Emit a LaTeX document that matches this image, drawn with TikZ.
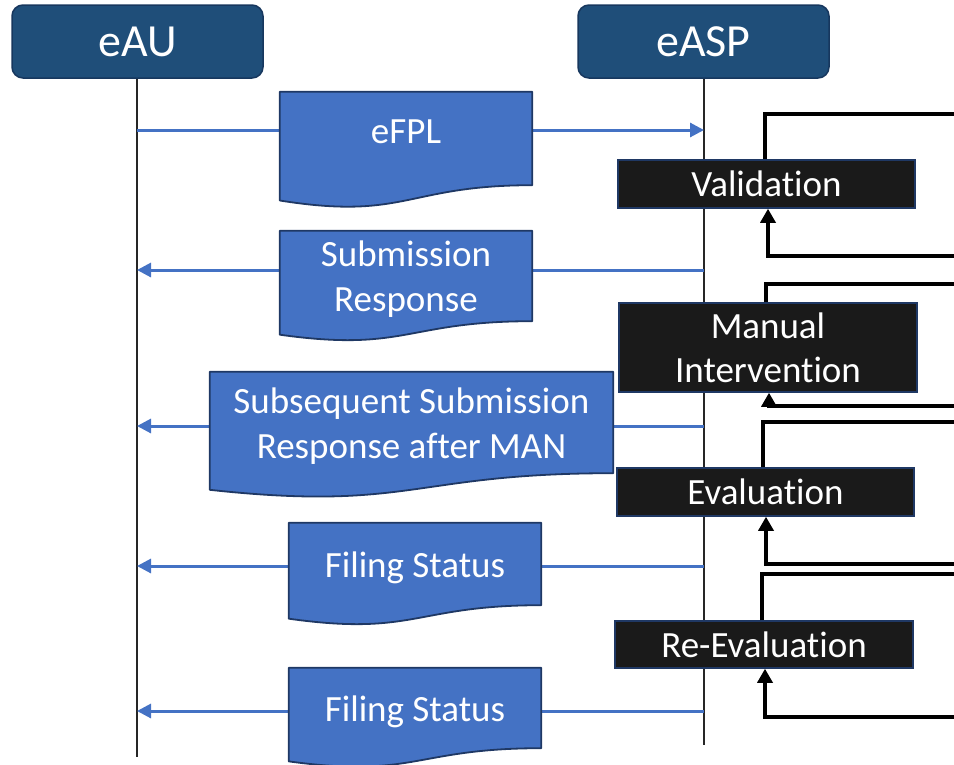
\documentclass[tikz,border=0pt]{standalone}
\usepackage{fontspec}
\setmainfont{Carlito}[Ligatures=NoCommon]
\usetikzlibrary{arrows.meta,calc}
\definecolor{hdrfill}{HTML}{1F4E79}
\definecolor{hdrline}{HTML}{17375E}
\definecolor{docblue}{HTML}{4472C4}
\definecolor{docline}{HTML}{1F3864}
\definecolor{boxfill}{HTML}{1A1A1A}
\pgfdeclarelayer{bg}
\pgfdeclarelayer{docs}
\pgfsetlayers{bg,docs,main}
\newcommand\docshape[2]{% node name, height
  \begin{pgfonlayer}{docs}
  \path[docpath] (#1.north west) -- (#1.north east) -- (#1.south east)
    .. controls (#1.south) and ($(#1.south)+(0,0.381*#2)$) ..
    ($(#1.south west)+(0,0.1646*#2)$) -- cycle;
  \end{pgfonlayer}}
\newcommand\dtext[2]{\raisebox{#1}[\height][\depth]{\begin{tabular}{@{}c@{}}#2\end{tabular}}}
\begin{document}
\begin{tikzpicture}[x=1pt,y=-1pt,
  hdrbox/.style={draw=hdrline, line width=1.5pt, fill=hdrfill, rounded corners=11pt,
    text=white, font=\fontsize{46}{52}\selectfont, inner sep=0pt},
  life/.style={draw=black!85, line width=1.2pt},
  msg/.style={draw=docblue, line width=3pt, -{Triangle[length=14pt,width=14pt]}},
  docnode/.style={inner sep=0pt, text=white, font=\fontsize{37}{45}\selectfont},
  docpath/.style={fill=docblue, draw=docline, line width=1.8pt, line join=round},
  procbox/.style={fill=boxfill, draw=docline, line width=1.5pt, inner sep=0pt, text=white,
    align=center, font=\fontsize{37}{44}\selectfont},
  loopline/.style={draw=black, line width=3.3pt},
  looparrow/.style={draw=black, line width=3.3pt, -{Triangle[length=14pt,width=15pt]}}
]
\useasboundingbox (0,0) rectangle (954,764);
\clip (0,0) rectangle (954,764);

% headers
\node[hdrbox, minimum width=251pt, minimum height=73pt] (eau) at (137.5,41.5) {eAU};
\node[hdrbox, minimum width=251pt, minimum height=73pt] (easp) at (703.5,41.5) {eASP};

% lifeline coordinates
\coordinate (eauend) at (137,757);
\coordinate (easpend) at (704,745);
\coordinate (l1) at (137,130);  \coordinate (r1) at (704,130);
\coordinate (l2) at (137,270);  \coordinate (r2) at (704,270);
\coordinate (l3) at (137,426);  \coordinate (r3) at (704,426);
\coordinate (l4) at (137,566);  \coordinate (r4) at (704,566);
\coordinate (l5) at (137,711);  \coordinate (r5) at (704,711);

\begin{pgfonlayer}{bg}
\draw[life] (137,78) -- (eauend);
\draw[life] (704,78) -- (easpend);
\draw[msg] (l1) -- (r1);
\draw[msg] (r2) -- (l2);
\draw[msg] (r3) -- (l3);
\draw[msg] (r4) -- (l4);
\draw[msg] (r5) -- (l5);
\end{pgfonlayer}

% document shapes
\node[docnode, minimum width=252pt, minimum height=93pt] (efpl) at (406,138.5) {\dtext{4pt}{eFPL}};
\docshape{efpl}{93}
\node[docnode, minimum width=252pt, minimum height=82pt] (subresp) at (406,276) {\dtext{-4pt}{Submission\\Response}};
\docshape{subresp}{82}
\node[docnode, minimum width=403pt, minimum height=101pt] (subseq) at (411.5,422.5) {\dtext{-4pt}{Subsequent Submission\\Response after MAN}};
\docshape{subseq}{101}
\node[docnode, minimum width=252pt, minimum height=82pt] (fs1) at (415,564) {\dtext{-4pt}{Filing Status}};
\docshape{fs1}{82}
\node[docnode, minimum width=252pt, minimum height=80pt] (fs2) at (415,708) {\dtext{-4pt}{Filing Status}};
\docshape{fs2}{80}

% process boxes
\node[procbox, minimum width=297pt, minimum height=48pt] (val) at (766.5,184) {Validation};
\node[procbox, minimum width=298pt, minimum height=89pt] (mi) at (768,347.5) {Manual\\Intervention};
\node[procbox, minimum width=297pt, minimum height=48pt] (ev) at (765.5,492) {Evaluation};
\node[procbox, minimum width=298pt, minimum height=47pt] (rev) at (764,644.5) {Re-Evaluation};

% loop connectors (running off the right edge)
\coordinate (valout) at (965,114); \coordinate (valin) at (965,256);
\coordinate (miout) at (965,284);  \coordinate (miin) at (965,406);
\coordinate (evout) at (965,422);  \coordinate (evin) at (965,564);
\coordinate (revout) at (965,574); \coordinate (revin) at (965,717);

\draw[loopline] ([xshift=-1.5pt]val.north) |- (valout);
\draw[looparrow] (valin) -| ([xshift=1.5pt]val.south);
\draw[loopline] ([xshift=-2pt]mi.north) |- (miout);
\draw[looparrow] (miin) -| ([xshift=1pt]mi.south);
\draw[loopline] ([xshift=-2.5pt]ev.north) |- (evout);
\draw[looparrow] (evin) -| ([xshift=0.5pt]ev.south);
\draw[loopline] ([xshift=-2pt]rev.north) |- (revout);
\draw[looparrow] (revin) -| ([xshift=1pt]rev.south);
\end{tikzpicture}
\end{document}
